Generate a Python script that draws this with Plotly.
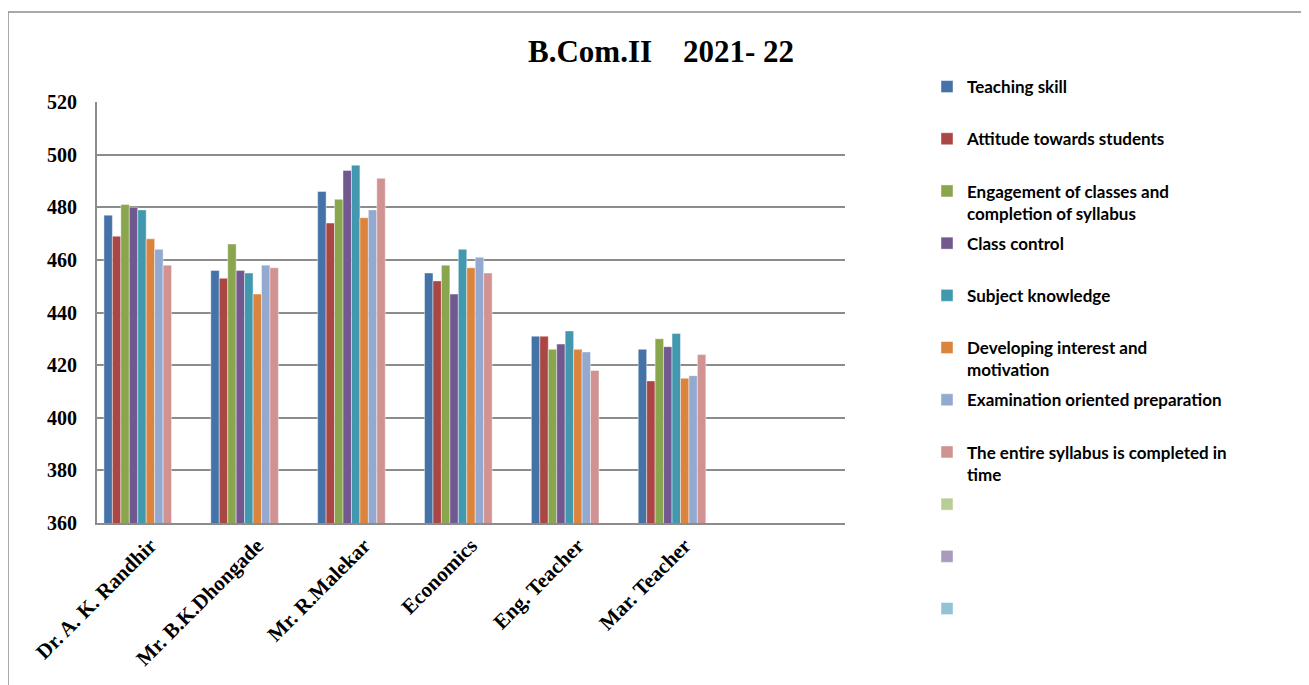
import plotly.graph_objects as go

categories = ["Dr. A. K. Randhir", "Mr. B.K.Dhongade", "Mr. R.Malekar",
              "Economics", "Eng. Teacher", "Mar. Teacher"]

series_names = [
    "Teaching skill",
    "Attitude towards students",
    "Engagement of classes and<br>completion of syllabus",
    "Class control",
    "Subject knowledge",
    "Developing interest and<br>motivation",
    "Examination oriented preparation",
    "The entire syllabus is completed in<br>time",
    "",
    "",
    "",
]

teaching_skill = [477, 456, 486, 455, 431, 426]
attitude = [469, 453, 474, 452, 431, 414]
engagement = [481, 466, 483, 458, 426, 430]
class_control = [480, 456, 494, 447, 428, 427]
subject_knowledge = [479, 455, 496, 464, 433, 432]
developing_interest = [468, 447, 476, 457, 426, 415]
exam_preparation = [464, 458, 479, 461, 425, 416]
syllabus_in_time = [458, 457, 491, 455, 418, 424]
empty_series = [None] * 6

series_values = [teaching_skill, attitude, engagement, class_control,
                 subject_knowledge, developing_interest, exam_preparation,
                 syllabus_in_time, empty_series, empty_series, empty_series]

colors = ["#4572A7", "#AA4643", "#89A54E", "#71588F", "#4198AF", "#DB843D",
          "#93A9CF", "#D19392", "#B9CD96", "#A99BBD", "#91C3D5"]

y_ticks = [360, 380, 400, 420, 440, 460, 480, 500, 520]

# page offset of the figure inside the browser (body margin)
OFF = 8
W, H = 1309 - OFF, 685 - OFF
L, R, T, B = 97 - OFF, 845 - OFF, 102 - OFF, 523 - OFF

fig = go.Figure()
for i, (name, vals, col) in enumerate(zip(series_names, series_values, colors)):
    label = name if "<br>" in name else (name if name else "\u00a0") + "<br>\u00a0"
    fig.add_trace(go.Bar(
        x=categories, y=vals, name=label,
        marker=dict(color=col, line=dict(color="rgba(255,255,255,0.55)", width=0.8)),
        legendgroup="g%d" % i,
    ))

def px(x):
    return (x - OFF - L) / (R - L)

def py(y):
    return (B - (y - OFF)) / (B - T)

border = "#8c8c8c"
shapes = [
    dict(type="line", xref="paper", yref="paper", x0=px(8), x1=px(1330), y0=py(12), y1=py(12),
         line=dict(color=border, width=1.5)),
    dict(type="line", xref="paper", yref="paper", x0=px(8), x1=px(8), y0=py(12), y1=py(720),
         line=dict(color=border, width=1.5)),
]

fig.update_layout(
    width=W, height=H, autosize=False,
    margin=dict(l=L, r=W - R, t=T, b=H - B, pad=0),
    paper_bgcolor="white", plot_bgcolor="white",
    barmode="group", bargap=0.13, bargroupgap=0,
    shapes=shapes,
    annotations=[dict(
        text="B.Com.II\u00a0\u00a0\u00a0 2021- 22", xref="paper", yref="paper",
        x=px(661), y=py(51), xanchor="center", yanchor="middle", showarrow=False,
        font=dict(family="Liberation Serif", size=31, color="black", weight="bold"),
    )],
    legend=dict(
        x=px(927), y=py(69), xanchor="left", yanchor="top",
        font=dict(family="Lato", size=17, color="black", weight="bold"),
        valign="top", tracegroupgap=5, traceorder="grouped",
        maxheight=700, bgcolor="rgba(0,0,0,0)",
    ),
    xaxis=dict(
        range=[-0.5, 6.5], showline=True, linecolor=border, linewidth=2,
        showgrid=False, ticks="", tickangle=-45,
        tickfont=dict(family="Liberation Serif", size=21, color="black", weight="bold"),
    ),
    yaxis=dict(
        range=[360, 520], tickvals=y_ticks, showline=True, linecolor=border, linewidth=2,
        showgrid=True, gridcolor=border, gridwidth=2, ticks="", zeroline=False,
        ticklabelstandoff=14,
        tickfont=dict(family="Liberation Serif", size=20, color="black", weight="bold"),
    ),
)

fig.write_html("out.html")
